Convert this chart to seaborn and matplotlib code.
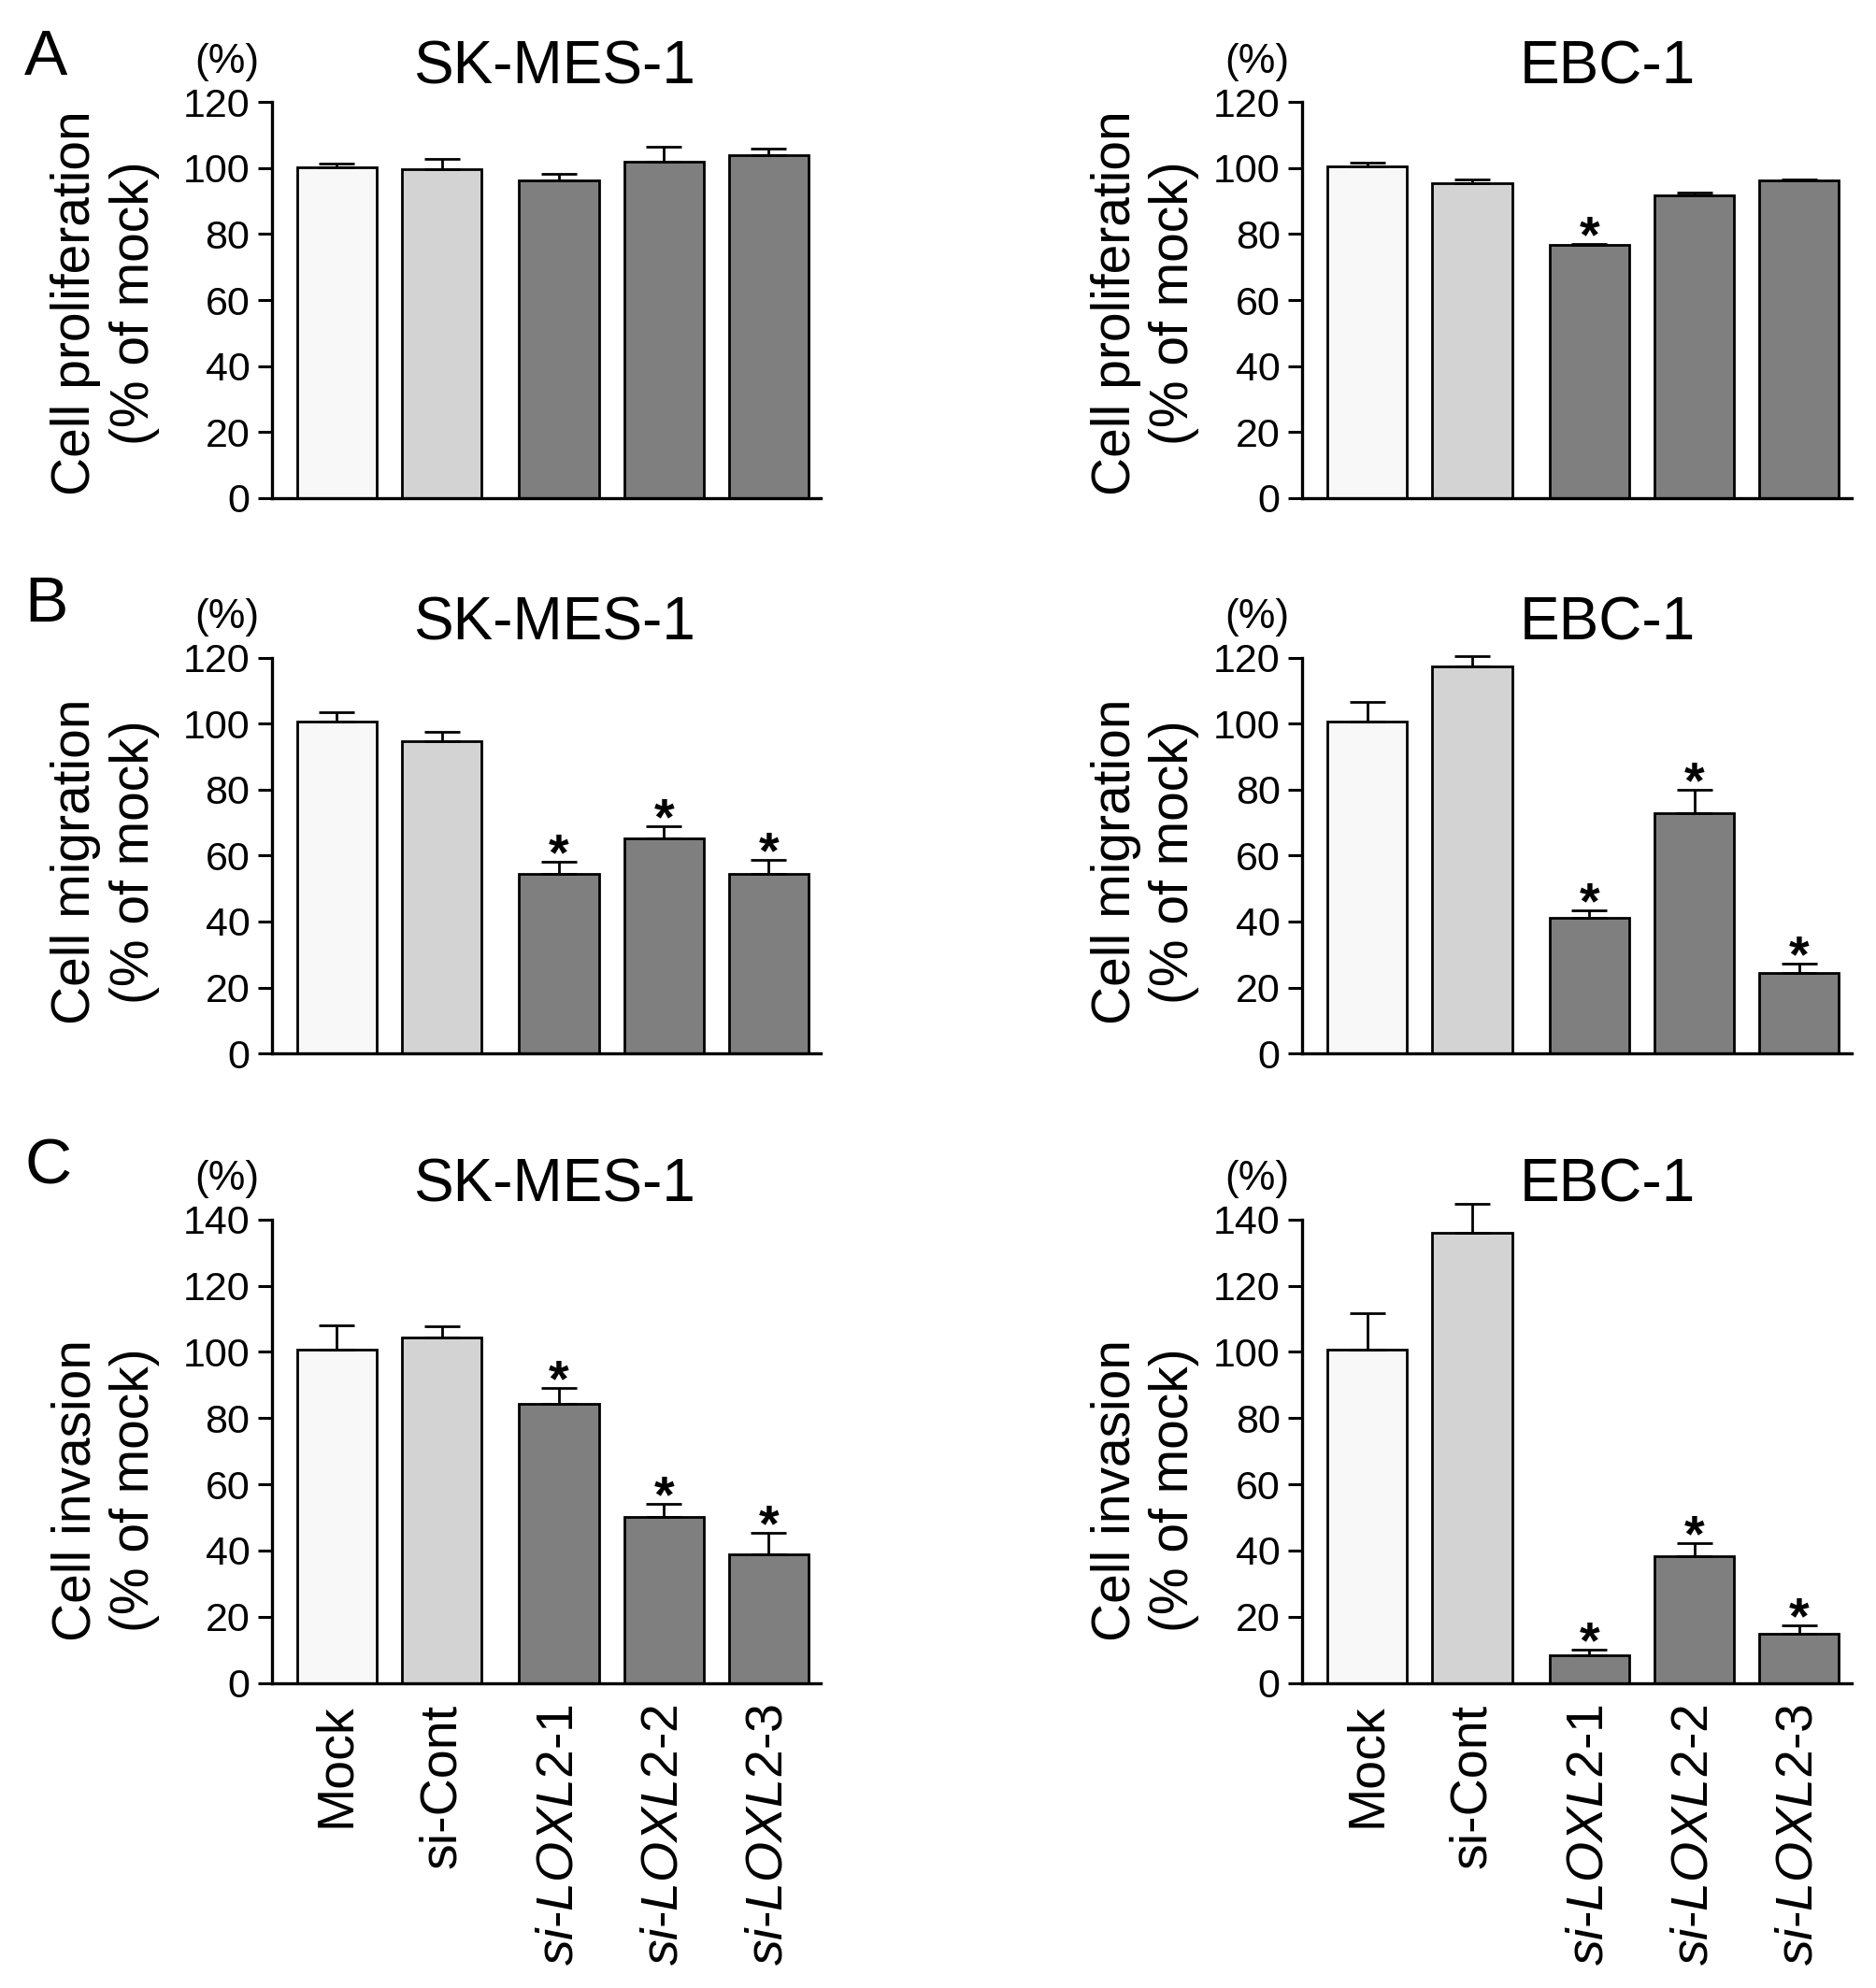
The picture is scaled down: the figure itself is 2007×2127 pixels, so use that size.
import numpy as np
import pandas as pd
import matplotlib
matplotlib.use("Agg")
import matplotlib.pyplot as plt
import seaborn as sns

# ---------------- data ----------------
conditions = ["Mock", "si-Cont", "si-LOXL2-1", "si-LOXL2-2", "si-LOXL2-3"]
groups = ["Mock", "si-Cont", "si-LOXL2", "si-LOXL2", "si-LOXL2"]
xtick_labels = ["Mock", "si-Cont",
                r"$\mathit{si}$-$\mathit{LOXL2}$-$\mathit{1}$",
                r"$\mathit{si}$-$\mathit{LOXL2}$-2",
                r"$\mathit{si}$-$\mathit{LOXL2}$-3"]
cell_lines = ["SK-MES-1", "EBC-1"]

prolif_skmes = [100.2, 99.7, 96.4, 101.9, 103.8]
prolif_skmes_err = [1.3, 3.1, 2.0, 4.5, 2.2]
prolif_ebc = [100.6, 95.3, 76.7, 91.7, 96.3]
prolif_ebc_err = [1.2, 1.4, 0.3, 0.8, 0.4]

migr_skmes = [100.6, 94.6, 54.5, 65.1, 54.5]
migr_skmes_err = [2.9, 2.9, 3.6, 3.7, 4.1]
migr_ebc = [100.7, 117.2, 41.2, 72.9, 24.3]
migr_ebc_err = [5.9, 3.3, 2.3, 7.1, 2.9]

inv_skmes = [100.7, 104.4, 84.3, 50.2, 38.8]
inv_skmes_err = [7.4, 3.2, 4.9, 3.8, 6.5]
inv_ebc = [100.8, 136.1, 8.3, 38.3, 14.9]
inv_ebc_err = [11.0, 8.7, 1.7, 3.8, 2.5]

sig_none = [False, False, False, False, False]
sig_one = [False, False, True, False, False]
sig_three = [False, False, True, True, True]

row_letters = ["A", "B", "C"]
row_ylabels = ["Cell proliferation\n(% of mock)",
               "Cell migration\n(% of mock)",
               "Cell invasion\n(% of mock)"]
row_ymax = [120, 120, 140]

# ---------------- style ----------------
sns.set_theme(style="ticks")
plt.rcParams["font.family"] = ["Liberation Sans", "DejaVu Sans"]
plt.rcParams["mathtext.fontset"] = "custom"
plt.rcParams["mathtext.rm"] = "Liberation Sans"
plt.rcParams["mathtext.it"] = "Liberation Sans:italic"
plt.rcParams["mathtext.bf"] = "Liberation Sans:bold"
plt.rcParams["text.color"] = "black"
plt.rcParams["axes.labelcolor"] = "black"
plt.rcParams["xtick.color"] = "black"
plt.rcParams["ytick.color"] = "black"
plt.rcParams["axes.edgecolor"] = "black"

palette = {"Mock": "#f8f8f8", "si-Cont": "#d3d3d3", "si-LOXL2": "#7f7f7f"}
positions = [0, 1, 2.12, 3.12, 4.12]

fig = plt.figure(figsize=(20.08, 21.27), dpi=100)

col_x0 = [0.1449, 0.6939]
ax_w = 0.2925
row_y = [(0.7495, 0.1991), (0.4701, 0.1991), (0.1535, 0.2331)]
title_x = [0.514, 0.556]
label_x = [0.0561, 0.610]
label_y = [0.8478, 0.5665, 0.2505]
letter_y = [0.986, 0.711, 0.428]

panels = [
    [(prolif_skmes, prolif_skmes_err, sig_none), (prolif_ebc, prolif_ebc_err, sig_one)],
    [(migr_skmes, migr_skmes_err, sig_three), (migr_ebc, migr_ebc_err, sig_three)],
    [(inv_skmes, inv_skmes_err, sig_three), (inv_ebc, inv_ebc_err, sig_three)],
]

for r in range(3):
    for c in range(2):
        vals, errs, sig = panels[r][c]
        y0, h = row_y[r]
        ax = fig.add_axes([col_x0[c], y0, ax_w, h])
        df = pd.DataFrame({"pos": positions, "value": vals, "group": groups,
                           "cond": conditions})
        sns.barplot(data=df, x="pos", y="value", hue="group", palette=palette,
                    native_scale=True, dodge=False, width=0.76,
                    edgecolor="black", linewidth=2.0, legend=False,
                    errorbar=None, ax=ax, zorder=2)
        ax.errorbar(positions, vals, yerr=[np.zeros(len(vals)), errs],
                    fmt="none", ecolor="black", elinewidth=2.0, capsize=14,
                    capthick=2.0, clip_on=False, zorder=3)
        for p, v, e, s in zip(positions, vals, errs, sig):
            if s:
                ax.annotate("*", xy=(p, v + e), xytext=(0, -6),
                            textcoords="offset points", ha="center",
                            va="baseline", fontsize=40, fontweight="bold",
                            annotation_clip=False)
        ax.set_xlim(-0.62, 4.62)
        ax.set_ylim(0, row_ymax[r])
        ax.set_yticks(np.arange(0, row_ymax[r] + 1, 20))
        ax.tick_params(axis="y", labelsize=31, length=11, width=2.2, pad=6,
                       direction="out", colors="black")
        for side in ["top", "right"]:
            ax.spines[side].set_visible(False)
        for side in ["left", "bottom"]:
            ax.spines[side].set_linewidth(2.4)
            ax.spines[side].set_color("black")
        ax.set_xlabel("")
        ax.set_ylabel("")
        ax.set_xticks(positions)
        if r == 2:
            ax.set_xticklabels(xtick_labels, rotation=90, fontsize=40,
                               va="top", ha="center")
            ax.tick_params(axis="x", length=0, pad=16)
        else:
            ax.set_xticklabels([])
            ax.tick_params(axis="x", length=0)
        ax.set_title(cell_lines[c], fontsize=46, x=title_x[c], pad=14,
                     color="black")
        ax.annotate("(%)", xy=(0, 1), xycoords="axes fraction",
                    xytext=(-35, 16), textcoords="offset points",
                    ha="center", va="bottom", fontsize=32, color="black")
        fig.text(label_x[c], label_y[r], row_ylabels[r], rotation=90,
                 ha="center", va="center", multialignment="center",
                 fontsize=41, linespacing=1.2, color="black")
    fig.text(0.013, letter_y[r], row_letters[r], ha="left", va="top",
             fontsize=50, color="black")

fig.savefig("out.png", dpi=100, facecolor="white")
